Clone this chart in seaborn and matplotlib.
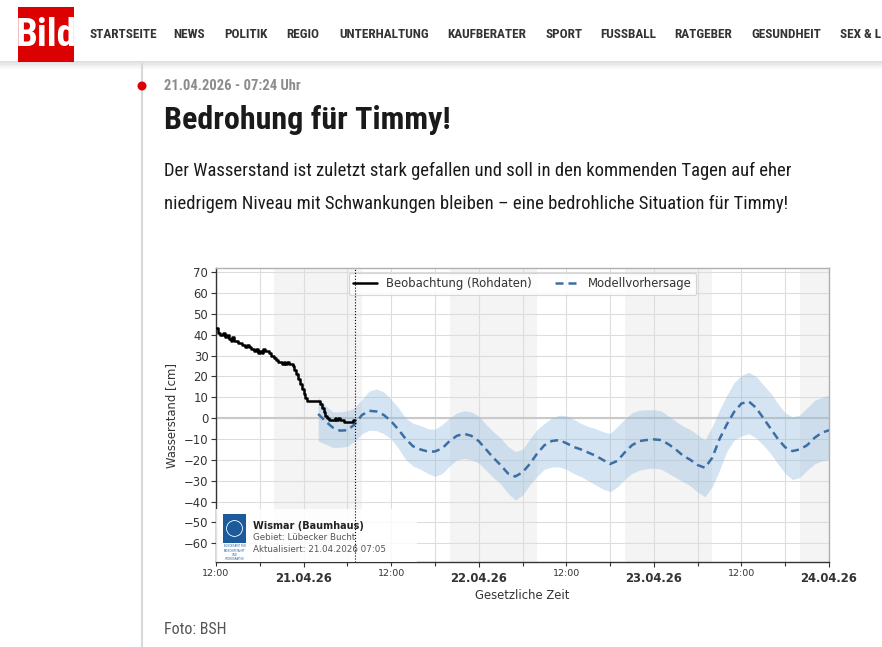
import pandas as pd
import matplotlib
matplotlib.use("Agg")
import matplotlib.pyplot as plt
import matplotlib.dates as mdates
from matplotlib import font_manager
from matplotlib.patches import Rectangle, Ellipse
from matplotlib.lines import Line2D
from matplotlib.ticker import FuncFormatter, MultipleLocator
import seaborn as sns

# -----------------------------
# Data
# -----------------------------
# Beobachtung (Rohdaten), 15-min steps from 20.04.2026 12:00
obs_start = "2026-04-20 12:00"
obs_values = [43, 41, 40, 40, 41, 39, 40, 38, 37, 39, 37, 37, 36, 36, 35, 35,
              34, 35, 34, 33, 33, 32, 33, 31, 32, 31, 33, 32, 32, 31, 30, 30,
              29, 28, 27, 27, 26, 27, 26, 27, 26, 26, 25, 23, 21, 19, 16.5, 14,
              11.5, 9.5, 8, 8, 8, 8, 8, 8, 8, 7, 5, 3, 1, 0, -1, -1,
              -1, 0, -1, 0, -1, -1, -2, -2, -2, -2, -2, -1, -1]

# Modellvorhersage, hourly from 21.04.2026 02:00
fc_start = "2026-04-21 02:00"
fc_mean = [2, -1.5, -4.5, -6, -5.8, -3, 1.5, 3.5, 3.2, 1.5,
           -1.5, -5.5, -10, -13.5, -15, -16, -16, -14.5, -11, -8.5,
           -7.5, -8.5, -11, -15, -19, -22.5, -26.5, -28, -26, -22,
           -17, -13, -11, -10.5, -12, -13.8, -15, -16.5, -18, -20,
           -22, -20.5, -16.5, -13, -11, -10.5, -10.2, -10.5, -12.5, -15,
           -18, -20, -22.5, -23.8, -19, -10, -3, 3, 7, 8,
           5, 0, -5, -10, -14, -15.8, -15, -13, -9.5, -7, -5.8]
fc_upper = [10, 6, 3, 3, 3.5, 5, 9, 13, 14, 12.5,
            9, 5, 0, -2.5, -3.5, -5, -5.4, -3, 0, 2.5,
            3.5, 3, 1, -3, -6.5, -9.5, -13.5, -16, -15, -10,
            -5.5, -2.5, 0, 1.4, 1.2, -0.5, -2.5, -4, -5, -6.5,
            -7.4, -4, -0.5, 2.5, 3.8, 4, 4, 3.5, 1, -1.5,
            -3.8, -5.5, -8, -10.5, -4, 4, 11, 17, 20.5, 22,
            20, 16, 12, 7, 2.5, 0.6, 1.5, 5, 8.5, 10, 11]
fc_lower = [-11, -12.5, -14, -14, -13.5, -11, -7.5, -5.8, -6, -7.5,
            -10, -14.5, -20, -23, -24.5, -26.5, -28, -26.5, -23, -20,
            -19.3, -20, -21.5, -25, -28.5, -31.5, -36, -39.3, -37, -32,
            -28, -24.5, -23.5, -23.4, -24.5, -26.5, -28, -30, -32, -34,
            -35.3, -33, -29.5, -26.5, -25, -24.3, -24, -24.5, -26.5, -28.5,
            -30.5, -32.5, -35.5, -37.7, -33, -25, -16, -10.5, -8.5, -7.5,
            -9.5, -13, -17, -22, -26.5, -29.5, -28.5, -25, -22, -20.5, -20]

# night periods (grey bands)
night_start = ["2026-04-20 20:00", "2026-04-21 20:00", "2026-04-22 20:00", "2026-04-23 20:00"]
night_end = ["2026-04-21 08:00", "2026-04-22 08:00", "2026-04-23 08:00", "2026-04-24 08:00"]
update_time = "2026-04-21 07:05"

# menu of the page header (last item is cut by the screen edge)
menu_items = ["STARTSEITE", "NEWS", "POLITIK", "REGIO", "UNTERHALTUNG", "KAUFBERATER",
              "SPORT", "FUSSBALL", "RATGEBER", "GESUNDHEIT", "SEX & L"]
menu_x = [90, 173, 224, 286, 339, 447, 546, 600, 674, 751, 840]

obs = pd.DataFrame({
    "zeit": pd.date_range(obs_start, periods=len(obs_values), freq="15min"),
    "wert": obs_values,
})
fc = pd.DataFrame({
    "zeit": pd.date_range(fc_start, periods=len(fc_mean), freq="h"),
    "mean": fc_mean,
    "upper": fc_upper,
    "lower": fc_lower,
})

# -----------------------------
# Style / fonts
# -----------------------------
sns.set_theme(style="whitegrid")
plt.rcParams["font.family"] = ["DejaVu Sans"]
plt.rcParams["axes.unicode_minus"] = True

names = {f.name for f in font_manager.fontManager.ttflist}
page_font = "Roboto"
for cand in ["Roboto Condensed", "Liberation Sans Narrow", "Archivo Narrow", "Asap Condensed"]:
    if cand in names:
        page_font = cand
        break
page_fam = [page_font, "DejaVu Sans"]

W, H = 882, 647
fig = plt.figure(figsize=(W / 100, H / 100), dpi=100, facecolor="white")


def fx(x):
    return x / W


def fy(y):
    return 1 - y / H


# -----------------------------
# Page header
# -----------------------------
for i, c in enumerate(["#e0e0e0", "#e9e9e9", "#f0f0f0", "#f5f5f5", "#fafafa"]):
    fig.patches.append(Rectangle((0, fy(63 + i * 1.5)), 1, 1.5 / H, transform=fig.transFigure,
                                 facecolor=c, lw=0, zorder=0))
fig.patches.append(Rectangle((fx(18), fy(62)), 56 / W, 55 / H, transform=fig.transFigure,
                             facecolor="#dd0000", lw=0, zorder=1))
fig.text(fx(46), fy(35), "Bild", color="white", fontsize=28, fontweight="heavy",
         family=page_fam, ha="center", va="center")
for item, x in zip(menu_items, menu_x):
    fig.text(fx(x), fy(35), item, color="#333333", fontsize=9.5, fontweight="bold",
             family=page_fam, ha="left", va="center")

fig.add_artist(Line2D([fx(142), fx(142)], [fy(64), 0], color="#d5d8dc", lw=1.5))
fig.patches.append(Ellipse((fx(142), fy(86)), 9 / W, 9 / H, transform=fig.transFigure,
                           facecolor="#dd0000", lw=0, zorder=3))

fig.text(fx(164), fy(86), "21.04.2026 - 07:24 Uhr", color="#8c8c8c", fontsize=10.5,
         fontweight="bold", family=page_fam, ha="left", va="center")
fig.text(fx(164), fy(120), "Bedrohung für Timmy!", color="#1a1a1a", fontsize=23,
         fontweight="heavy", family=page_fam, ha="left", va="center")
fig.text(fx(164), fy(171), "Der Wasserstand ist zuletzt stark gefallen und soll in den kommenden Tagen auf eher",
         color="#1a1a1a", fontsize=13.4, family=page_fam, ha="left", va="center")
fig.text(fx(164), fy(204), "niedrigem Niveau mit Schwankungen bleiben – eine bedrohliche Situation für Timmy!",
         color="#1a1a1a", fontsize=13.4, family=page_fam, ha="left", va="center")
fig.text(fx(164), fy(629), "Foto: BSH", color="#555555", fontsize=11.5,
         family=page_fam, ha="left", va="center")

# -----------------------------
# Chart
# -----------------------------
ax = fig.add_axes([fx(216), fy(562), 613 / W, 294 / H])
ax.set_facecolor("white")

for s, e in zip(night_start, night_end):
    ax.axvspan(pd.Timestamp(s), pd.Timestamp(e), color="#f4f4f4", lw=0, zorder=0)

ax.axhline(0, color="#c9c9c9", lw=1.5, zorder=1)
ax.fill_between(fc["zeit"], fc["lower"], fc["upper"], color="#8fb8dc", alpha=0.37, lw=0, zorder=2)

sns.lineplot(data=obs, x="zeit", y="wert", ax=ax, color="black", lw=1.8,
             drawstyle="steps-post", label="Beobachtung (Rohdaten)", zorder=4)
sns.lineplot(data=fc, x="zeit", y="mean", ax=ax, color="#3b6ea5", lw=1.8,
             linestyle=(0, (3.2, 2)), label="Modellvorhersage", zorder=3)

ax.axvline(pd.Timestamp(update_time), color="black", lw=0.8, ls=":", zorder=8)

ax.set_xlim(pd.Timestamp("2026-04-20 12:00"), pd.Timestamp("2026-04-24 00:00"))
ax.set_ylim(-69, 72)
ax.yaxis.set_major_locator(MultipleLocator(10))
ax.xaxis.set_major_locator(mdates.DayLocator())
ax.xaxis.set_major_formatter(mdates.DateFormatter("%d.%m.%y"))
ax.xaxis.set_minor_locator(mdates.HourLocator(byhour=[6, 12, 18]))
ax.xaxis.set_minor_formatter(FuncFormatter(
    lambda v, p: "12:00" if mdates.num2date(v).hour == 12 else ""))

ax.grid(which="both", color="#dddddd", lw=0.8)
ax.set_axisbelow(True)
ax.tick_params(axis="both", which="both", direction="out", bottom=True, left=True,
               color="#333333", width=0.8, labelcolor="#333333")
ax.tick_params(axis="y", length=3.5, labelsize=8.4, pad=2)
ax.tick_params(axis="x", which="major", length=3.5, labelsize=8.4, pad=3.5)
ax.tick_params(axis="x", which="minor", length=3, labelsize=6.8, pad=2)
plt.setp(ax.get_xticklabels(), fontweight="bold")

for side in ["left", "bottom"]:
    ax.spines[side].set_color("#333333")
    ax.spines[side].set_linewidth(1)
for side in ["top", "right"]:
    ax.spines[side].set_color("#b0b0b0")
    ax.spines[side].set_linewidth(1)

ax.set_xlabel("Gesetzliche Zeit", fontsize=8.4, color="#333333", labelpad=3)
ax.set_ylabel("Wasserstand [cm]", fontsize=8.4, color="#333333", labelpad=4)

leg = ax.legend(loc="upper center", ncol=2, fontsize=8.4, frameon=True,
                borderaxespad=0.4, handlelength=2, columnspacing=2)
leg.get_frame().set_edgecolor("#cccccc")
leg.get_frame().set_linewidth(0.8)
for t in leg.get_texts():
    t.set_color("#333333")

# info box bottom left
ax.add_patch(Rectangle((0, 0), 0.328, 0.18, transform=ax.transAxes, facecolor="white",
                       alpha=0.85, lw=0, zorder=6))
ax.add_patch(Rectangle((0.0114, 0.065), 0.0376, 0.098, transform=ax.transAxes,
                       facecolor="#1d5a9c", lw=0, zorder=7))
ax.add_patch(Ellipse((0.0302, 0.114), 0.026, 0.054, transform=ax.transAxes,
                     facecolor="none", edgecolor="white", lw=0.6, zorder=7.5))
ax.text(0.0302, 0.06, "BUNDESAMT FÜR\nSEESCHIFFFAHRT\nUND\nHYDROGRAPHIE", transform=ax.transAxes,
        fontsize=1.8, color="#1d5a9c", ha="center", va="top", zorder=7, linespacing=1.1)
ax.text(0.060, 0.122, "Wismar (Baumhaus)", transform=ax.transAxes, fontsize=7, fontweight="bold",
        color="#222222", ha="left", va="center", zorder=7)
ax.text(0.060, 0.082, "Gebiet: Lübecker Bucht", transform=ax.transAxes, fontsize=6.3,
        color="#555555", ha="left", va="center", zorder=7)
ax.text(0.060, 0.044, "Aktualisiert: 21.04.2026 07:05", transform=ax.transAxes, fontsize=6.3,
        color="#555555", ha="left", va="center", zorder=7)

fig.savefig("out.png", dpi=100, facecolor="white")
